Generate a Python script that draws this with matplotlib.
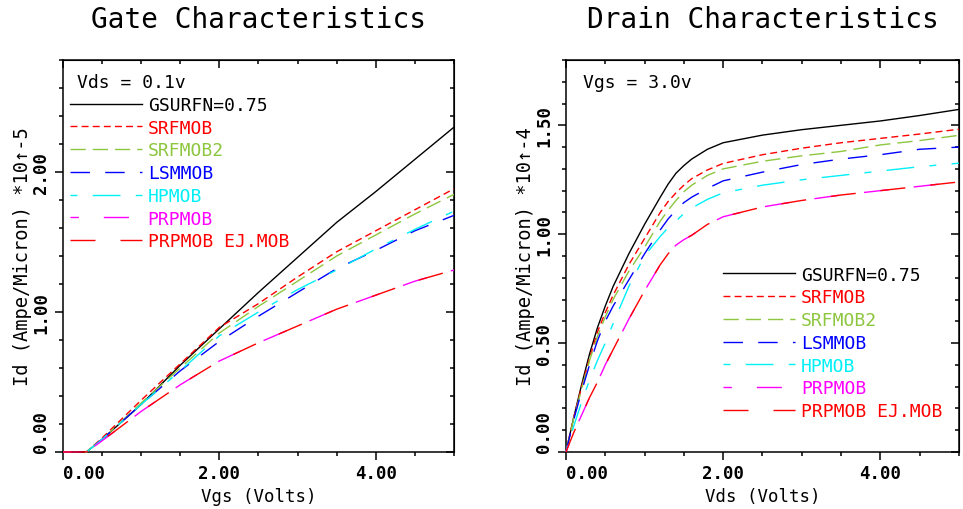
import matplotlib
matplotlib.use("Agg")
import matplotlib.pyplot as plt
from matplotlib.ticker import MultipleLocator

plt.rcParams['font.family'] = ['DejaVu Sans Mono', 'DejaVu Sans']
plt.rcParams['lines.scale_dashes'] = False

# Gate characteristics, Vds = 0.1 V  (Id in 1e-5 A/um)
vgs = [0, 0.3, 0.5, 1.0, 1.5, 2.0, 2.5, 3.0, 3.5, 4.0, 4.5, 5.0]
gate_gsurfn = [0, 0, 0.09, 0.34, 0.62, 0.88, 1.14, 1.39, 1.64, 1.86, 2.09, 2.32]
gate_srfmob = [0, 0, 0.10, 0.37, 0.63, 0.89, 1.06, 1.25, 1.43, 1.58, 1.73, 1.88]
gate_srfmob2 = [0, 0, 0.09, 0.35, 0.60, 0.85, 1.04, 1.22, 1.40, 1.55, 1.70, 1.84]
gate_lsmmob = [0, 0, 0.09, 0.34, 0.58, 0.79, 0.97, 1.14, 1.31, 1.44, 1.58, 1.69]
gate_hpmob = [0, 0, 0.09, 0.34, 0.58, 0.83, 1.00, 1.16, 1.30, 1.45, 1.59, 1.72]
gate_prpmob = [0, 0, 0.08, 0.29, 0.48, 0.65, 0.78, 0.90, 1.02, 1.12, 1.22, 1.30]
gate_prpmob_ej = [0, 0, 0.08, 0.29, 0.48, 0.65, 0.78, 0.90, 1.02, 1.12, 1.22, 1.30]

# Drain characteristics, Vgs = 3.0 V  (Id in 1e-4 A/um)
vds = [0, 0.1, 0.2, 0.3, 0.4, 0.5, 0.6, 0.8, 1.0, 1.2, 1.3, 1.4, 1.5, 1.6, 1.8, 2.0, 2.5, 3.0, 3.5, 4.0, 4.5, 5.0]
drain_gsurfn = [0, 0.16, 0.31, 0.45, 0.57, 0.67, 0.76, 0.91, 1.045, 1.17, 1.23, 1.28, 1.315, 1.345, 1.39, 1.42, 1.455, 1.48, 1.50, 1.52, 1.545, 1.573]
drain_srfmob = [0, 0.16, 0.30, 0.43, 0.55, 0.64, 0.72, 0.86, 0.98, 1.10, 1.15, 1.19, 1.225, 1.255, 1.295, 1.325, 1.365, 1.395, 1.42, 1.44, 1.46, 1.482]
drain_srfmob2 = [0, 0.155, 0.29, 0.42, 0.53, 0.62, 0.70, 0.83, 0.94, 1.06, 1.11, 1.155, 1.195, 1.225, 1.27, 1.30, 1.335, 1.36, 1.38, 1.41, 1.43, 1.454]
drain_lsmmob = [0, 0.15, 0.28, 0.40, 0.51, 0.60, 0.67, 0.79, 0.91, 1.02, 1.07, 1.11, 1.145, 1.17, 1.21, 1.245, 1.285, 1.32, 1.345, 1.365, 1.39, 1.40]
drain_hpmob = [0, 0.12, 0.23, 0.33, 0.42, 0.50, 0.59, 0.76, 0.90, 0.99, 1.03, 1.06, 1.095, 1.12, 1.16, 1.19, 1.225, 1.25, 1.27, 1.29, 1.31, 1.326]
drain_prpmob = [0, 0.09, 0.17, 0.25, 0.32, 0.40, 0.47, 0.61, 0.74, 0.86, 0.91, 0.95, 0.975, 0.995, 1.045, 1.08, 1.125, 1.155, 1.18, 1.20, 1.22, 1.24]
drain_prpmob_ej = [0, 0.09, 0.17, 0.25, 0.32, 0.40, 0.47, 0.61, 0.74, 0.86, 0.91, 0.95, 0.975, 0.995, 1.045, 1.08, 1.125, 1.155, 1.18, 1.20, 1.22, 1.24]

labels = ['GSURFN=0.75', 'SRFMOB', 'SRFMOB2', 'LSMMOB', 'HPMOB', 'PRPMOB', 'PRPMOB EJ.MOB']
styles = [
    dict(color='black', linestyle='-'),
    dict(color='#ff0000', linestyle=(0, (5, 3))),
    dict(color='#8dc63f', linestyle=(0, (11, 5))),
    dict(color='#0000ff', linestyle=(0, (14, 11))),
    dict(color='#00f0f8', linestyle=(0, (5, 11, 20, 11))),
    dict(color='#ff00ff', linestyle=(12, (18, 18))),
    dict(color='#ff0000', linestyle=(0, (18, 18))),
]


def setup(ax, xmax, ymax, ymajor, yminor, ylabels, title, xlabel, ylabel):
    ax.set_xlim(0, xmax)
    ax.set_ylim(0, ymax)
    ax.set_xticks([0, 2, 4], ['0.00', '2.00', '4.00'])
    ax.xaxis.set_minor_locator(MultipleLocator(0.5))
    ax.set_yticks(ymajor, ylabels)
    ax.yaxis.set_minor_locator(MultipleLocator(yminor))
    ax.tick_params(which='both', direction='out', top=False, right=False, width=1.1)
    ax.tick_params(which='major', length=6)
    ax.tick_params(which='minor', length=3)
    ax.tick_params(axis='x', pad=3, labelsize=12.5)
    ax.tick_params(axis='y', pad=3, labelsize=12.5, labelrotation=90)
    for t in ax.get_xticklabels() + ax.get_yticklabels():
        t.set_fontweight('bold')
        t.set_verticalalignment('center')
    for t in ax.get_xticklabels():
        t.set_verticalalignment('top')
    ax.get_xticklabels()[0].set_horizontalalignment('left')
    ax.get_yticklabels()[0].set_verticalalignment('bottom')
    for s in ax.spines.values():
        s.set_linewidth(1.1)

    top = ax.secondary_xaxis('top')
    top.set_xticks([0, 2, 4])
    top.xaxis.set_minor_locator(MultipleLocator(0.5))
    top.tick_params(which='both', direction='in', labeltop=False, width=1.1)
    top.tick_params(which='major', length=6)
    top.tick_params(which='minor', length=3)
    right = ax.secondary_yaxis('right')
    right.set_yticks(ymajor)
    right.yaxis.set_minor_locator(MultipleLocator(yminor))
    right.tick_params(which='both', direction='in', labelright=False, width=1.1)
    right.tick_params(which='major', length=6)
    right.tick_params(which='minor', length=3)

    ax.set_title(title, fontsize=20, pad=24)
    ax.set_xlabel(xlabel, fontsize=12.5, labelpad=3)
    ax.set_ylabel(ylabel, fontsize=13.5)
    ax.yaxis.set_label_coords(-0.08, 0.5)


fig = plt.figure(figsize=(9.63, 5.10), dpi=100)
ax1 = fig.add_axes([0.0654, 0.1118, 0.406, 0.7686])
ax2 = fig.add_axes([0.5877, 0.1118, 0.408, 0.7686])

gate = [gate_gsurfn, gate_srfmob, gate_srfmob2, gate_lsmmob, gate_hpmob, gate_prpmob, gate_prpmob_ej]
drain = [drain_gsurfn, drain_srfmob, drain_srfmob2, drain_lsmmob, drain_hpmob, drain_prpmob, drain_prpmob_ej]

for ys, lab, st in zip(gate, labels, styles):
    ax1.plot(vgs, ys, lw=1.0, label=lab, zorder=3, clip_on=False, **st)
for ys, lab, st in zip(drain, labels, styles):
    ax2.plot(vds, ys, lw=1.0, label=lab, zorder=3, clip_on=False, **st)

setup(ax1, 5, 2.8, [0, 1, 2], 0.2, ['0.00', '1.00', '2.00'],
      'Gate Characteristics', 'Vgs (Volts)', 'Id (Ampe/Micron) *10↑-5')
setup(ax2, 5, 1.8, [0, 0.5, 1.0, 1.5], 0.1, ['0.00', '0.50', '1.00', '1.50'],
      'Drain Characteristics', 'Vds (Volts)', 'Id (Ampe/Micron) *10↑-4')

ax1.text(0.036, 0.945, 'Vds = 0.1v', transform=ax1.transAxes, fontsize=13, va='center', ha='left')
ax2.text(0.043, 0.945, 'Vgs = 3.0v', transform=ax2.transAxes, fontsize=13, va='center', ha='left')

leg_kw = dict(frameon=False, fontsize=13, handlelength=4.0, handletextpad=0.3,
              labelspacing=0.26, borderpad=0, borderaxespad=0, labelcolor='linecolor')
ax1.legend(loc='upper left', bbox_to_anchor=(0.018, 0.908), **leg_kw)
ax2.legend(loc='upper left', bbox_to_anchor=(0.40, 0.475), **leg_kw)

fig.savefig('out.png', dpi=100)
